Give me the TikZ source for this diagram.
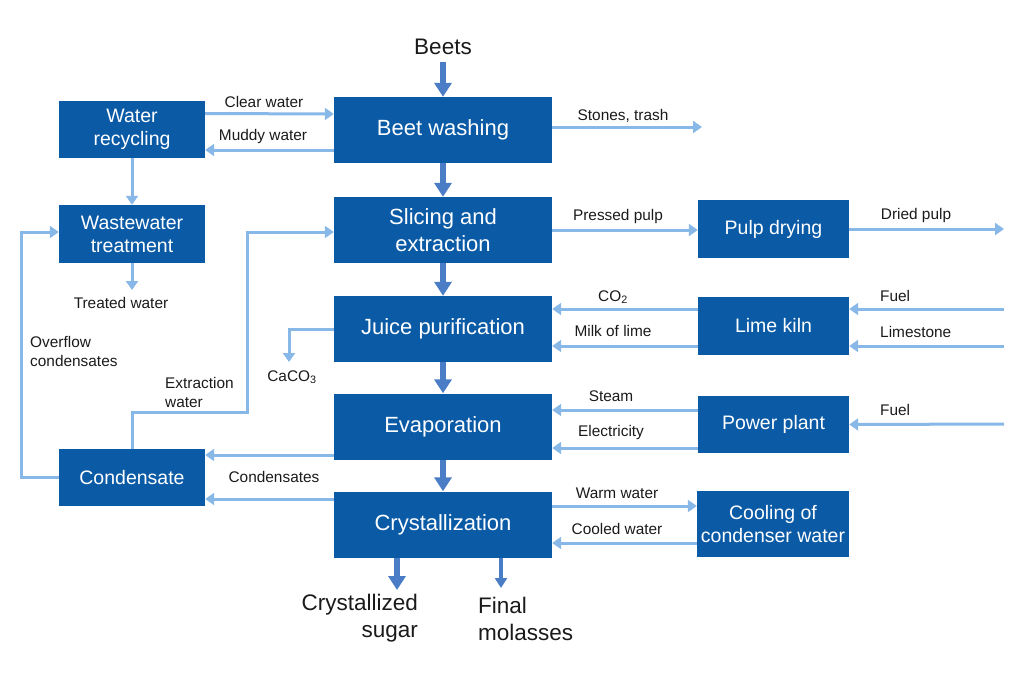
\documentclass[tikz,border=0pt]{standalone}
\usepackage{fontspec}
\setmainfont{Liberation Sans}
\usetikzlibrary{arrows.meta}
\definecolor{boxblue}{RGB}{10,90,166}
\definecolor{darkarr}{RGB}{74,125,198}
\definecolor{lightarr}{RGB}{136,184,232}
\definecolor{labtxt}{RGB}{26,26,26}
\tikzset{
  mainbox/.style={rectangle,fill=boxblue,text=white,inner sep=0pt,minimum width=218pt,minimum height=66pt,align=center,font=\fontsize{22}{27}\selectfont},
  sidebox/.style={rectangle,fill=boxblue,text=white,inner sep=0pt,minimum width=146pt,minimum height=57pt,align=center,font=\fontsize{19.5}{23}\selectfont},
  lab/.style={text=labtxt,inner sep=0pt,font=\fontsize{15.4}{18.5}\selectfont},
  biglab/.style={text=labtxt,inner sep=0pt,font=\fontsize{22.5}{27}\selectfont},
  la/.style={draw=lightarr,line width=3pt,-{Triangle[length=9pt,width=12pt]}},
  da/.style={draw=darkarr,line width=6.5pt,-{Triangle[length=14pt,width=17pt]}},
  dthin/.style={draw=darkarr,line width=3.5pt,-{Triangle[length=10pt,width=12pt]}},
}
\begin{document}
\begin{tikzpicture}[x=1pt,y=-1pt]
\useasboundingbox (0,0) rectangle (1024,683);
% main column
\node[mainbox] (wash) at (443,130) {Beet washing};
\node[mainbox] (slice) at (443,230) {Slicing and\\extraction};
\node[mainbox] (juice) at (443,329) {Juice purification};
\node[mainbox] (evap) at (443,426.5) {Evaporation};
\node[mainbox] (cryst) at (443,524.5) {Crystallization};
% left column
\node[sidebox] (recyc) at (132,129.5) {Water\\recycling};
\node[sidebox, minimum height=58pt] (waste) at (132,234) {Wastewater\\treatment};
\node[sidebox] (cond) at (132,477.5) {Condensate};
% right column
\node[sidebox, minimum width=151pt, minimum height=58pt] (pulp) at (773.5,229) {Pulp drying};
\node[sidebox, minimum width=151pt, minimum height=58pt] (kiln) at (773.5,326) {Lime kiln};
\node[sidebox, minimum width=151pt] (power) at (773.5,424.5) {Power plant};
\node[sidebox, minimum width=152pt, minimum height=66pt] (cool) at (773,524) {Cooling of\\condenser water};
% big labels
\node[biglab] (beets) at (443,47) {Beets};
\node[biglab, align=right, anchor=east] (sugar) at (418,618.5) {Crystallized\\sugar};
\node[biglab, align=left, anchor=west] (molas) at (478,618.5) {Final\\molasses};
% free ends
\coordinate (bin) at (443,62);
\coordinate (stones) at (702,127);
\coordinate (treated) at (132,290);
\coordinate (dried) at (1004,229);
\coordinate (fuelA) at (1004,309);
\coordinate (limeIn) at (1004,346);
\coordinate (fuelB) at (1004,424);
\coordinate (caco) at (289,362);
\coordinate (s1) at (397,590);
\coordinate (s2) at (501,588);
% dark arrows
\draw[da] (bin) -- (wash.north);
\draw[da] (wash.south) -- (slice.north);
\draw[da] (slice.south) -- (juice.north);
\draw[da] (juice.south) -- (evap.north);
\draw[da] (evap.south) -- (cryst.north);
\draw[da] (cryst.south -| s1) -- (s1);
\draw[dthin] (cryst.south -| s2) -- (s2);
% light arrows
\draw[la] ([yshift=16pt]recyc.east) -- ([yshift=16pt]wash.west);
\node[lab] (lclear) at (264,102) {Clear water};
\draw[la] ([yshift=-20pt]wash.west) -- ([yshift=-20.5pt]recyc.east);
\node[lab] (lmuddy) at (263,137) {Muddy water};
\draw[la] ([yshift=3pt]wash.east) -- (stones);
\node[lab] (lstones) at (623,116) {Stones, trash};
\draw[la] (recyc.south) -- (waste.north);
\draw[la] (waste.south) -- (treated);
\node[lab] (ltreated) at (121,303) {Treated water};
\draw[la] (cond.west) -- ++(-37,0) |- ([yshift=2pt]waste.west);
\node[lab, align=left, anchor=west] (lover) at (30,351.5) {Overflow\\condensates};
\draw[la] (cond.north) |- (247,412) |- ([yshift=-2pt]slice.west);
\node[lab, align=left, anchor=west] (lextr) at (165,392.5) {Extraction\\water};
\draw[la] (slice.east) -- (slice.east -| pulp.west);
\node[lab] (lpressed) at (618,217) {Pressed pulp};
\draw[la] (pulp.east) -- (dried);
\node[lab] (ldried) at (916,216) {Dried pulp};
\draw[la] ([yshift=17pt]kiln.west) -- ([yshift=20pt]juice.east);
\node[lab] (lco) at (613,297) {CO\textsubscript{2}};
\draw[la] ([yshift=-20pt]kiln.west) -- ([yshift=-17pt]juice.east);
\node[lab] (lmilk) at (613,331) {Milk of lime};
\draw[la] (fuelA) -- ([yshift=17pt]kiln.east);
\node[lab, anchor=west] (lfuelA) at (880,296) {Fuel};
\draw[la] (limeIn) -- ([yshift=-20pt]kiln.east);
\node[lab, anchor=west] (llime) at (880,332) {Limestone};
\draw[la] (juice.west) -| (caco);
\node[lab] (lcaco) at (292,377) {CaCO\textsubscript{3}};
\draw[la] ([yshift=14.5pt]power.west) -- ([yshift=16.5pt]evap.east);
\node[lab] (lsteam) at (611,396) {Steam};
\draw[la] ([yshift=-23.5pt]power.west) -- ([yshift=-21.5pt]evap.east);
\node[lab] (lelec) at (611,433) {Electricity};
\draw[la] (fuelB) -- (power.east);
\node[lab, anchor=west] (lfuelB) at (880,410) {Fuel};
\draw[la] ([yshift=-28.5pt]evap.west) -- ([yshift=22.5pt]cond.east);
\draw[la] ([yshift=25.5pt]cryst.west) -- ([yshift=-21.5pt]cond.east);
\node[lab] (lconds) at (274,477) {Condensates};
\draw[la] ([yshift=18.5pt]cryst.east) -- ([yshift=18pt]cool.west);
\node[lab] (lwarm) at (617,493) {Warm water};
\draw[la] ([yshift=-19pt]cool.west) -- ([yshift=-18.5pt]cryst.east);
\node[lab] (lcooled) at (617,529) {Cooled water};
\end{tikzpicture}
\end{document}
